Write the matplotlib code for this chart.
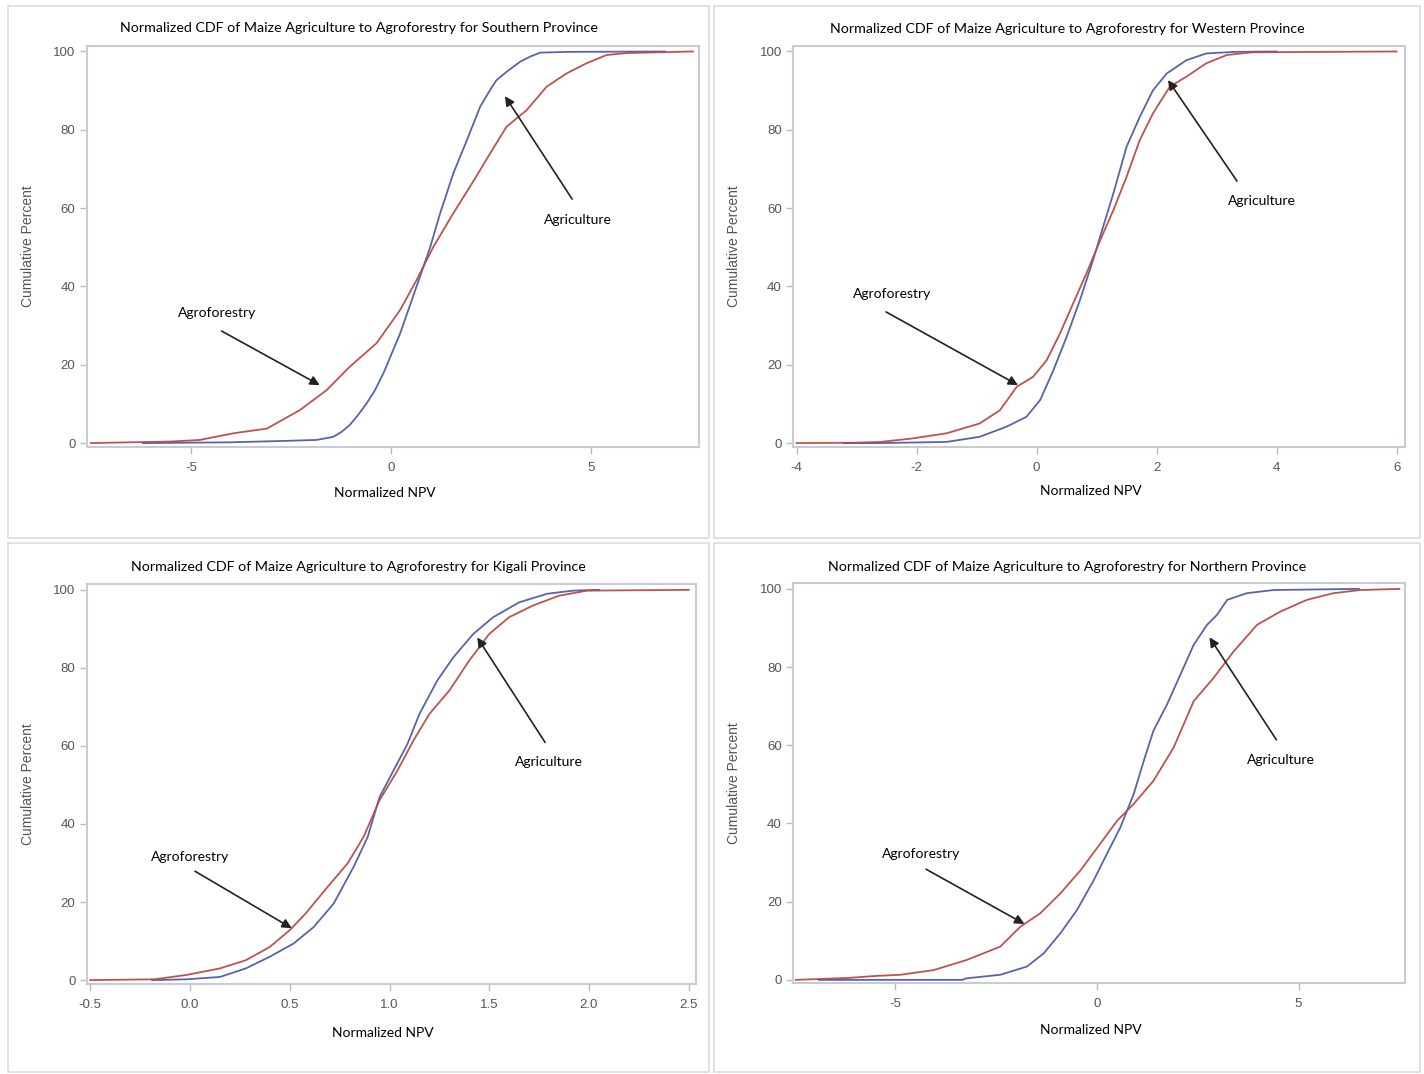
import matplotlib
matplotlib.use('Agg')
import matplotlib.pyplot as plt
from matplotlib.patches import Rectangle
from matplotlib import font_manager

W, H = 1424, 1074

# ---- data (Normalized NPV, cumulative percent) ----
south_agri_x = [-6.2, -4.0, -2.5, -1.86, -1.44, -1.23, -1.03, -0.82, -0.61, -0.4, -0.19, 0.23, 0.64,
                0.98, 1.23, 1.56, 1.9, 2.23, 2.48, 2.64, 2.89, 3.06, 3.23, 3.48, 3.73, 4.4, 6.85]
south_agri_y = [0, 0.2, 0.6, 0.8, 1.6, 2.9, 4.6, 7.2, 10.1, 13.5, 17.8, 28, 40,
                50, 58.7, 68.9, 77.4, 85.9, 90.2, 92.7, 94.8, 96.1, 97.4, 98.7, 99.7, 99.9, 100]
south_agro_x = [-7.5, -5.5, -4.78, -3.94, -3.1, -2.28, -1.61, -1.03, -0.36, 0.23, 0.64, 1.06,
                1.56, 2.08, 2.48, 2.89, 3.39, 3.89, 4.39, 4.89, 5.39, 5.9, 7.55]
south_agro_y = [0, 0.4, 0.8, 2.5, 3.7, 8.4, 13.5, 19.5, 25.5, 34, 41.6, 50.1,
                58.7, 67.2, 74, 80.8, 85, 91, 94.4, 97, 99.1, 99.6, 100]

west_agri_x = [-3.22, -2.6, -1.5, -0.95, -0.5, -0.17, 0.06, 0.28, 0.5, 0.72, 0.94, 1.11,
               1.28, 1.5, 1.72, 1.94, 2.17, 2.5, 2.83, 3.3, 4.0]
west_agri_y = [0, 0, 0.3, 1.6, 4.2, 6.7, 11, 18.6, 27.1, 36.4, 46.7, 55.3,
               63.8, 75.7, 83.3, 90.1, 94.4, 97.8, 99.5, 99.9, 100]
west_agro_x = [-4.0, -3.0, -2.6, -2.06, -1.5, -0.95, -0.61, -0.33, -0.06, 0.17, 0.39, 0.61,
               0.83, 1.06, 1.28, 1.5, 1.72, 1.94, 2.22, 2.5, 2.83, 3.17, 3.6, 6.0]
west_agro_y = [0, 0.1, 0.3, 1.2, 2.5, 5, 8.4, 14.4, 16.9, 21.2, 28, 35.7,
               43.3, 51.8, 59.5, 68, 77.4, 84.2, 91, 93.6, 97, 99.1, 99.8, 100]

kigali_agri_x = [-0.19, -0.02, 0.15, 0.28, 0.40, 0.52, 0.62, 0.72, 0.82, 0.89, 0.95, 1.02,
                 1.09, 1.15, 1.24, 1.32, 1.42, 1.52, 1.65, 1.79, 1.92, 2.05]
kigali_agri_y = [0, 0.2, 0.8, 3, 6, 9.4, 13.6, 19.6, 29, 36.6, 46.9, 53.7,
                 60.5, 68.2, 76.8, 82.7, 88.7, 93, 96.8, 99, 99.8, 100]
kigali_agro_x = [-0.5, -0.18, -0.02, 0.15, 0.28, 0.40, 0.50, 0.58, 0.69, 0.79, 0.87, 0.95,
                 1.04, 1.12, 1.2, 1.30, 1.40, 1.50, 1.6, 1.72, 1.85, 1.99, 2.5]
kigali_agro_y = [0, 0.2, 1.3, 3, 5.1, 8.5, 12.8, 17.1, 23.9, 29.9, 36.7, 46.1,
                 53.7, 61.4, 68.2, 74.2, 81.9, 88.7, 93, 96, 98.5, 99.8, 100]

north_agri_x = [-6.9, -3.35, -3.23, -2.4, -1.74, -1.32, -0.91, -0.5, -0.08, 0.25, 0.58, 0.91,
                1.16, 1.40, 1.74, 2.07, 2.40, 2.73, 2.98, 3.23, 3.72, 4.38, 6.5]
north_agri_y = [0, 0, 0.4, 1.3, 3.4, 6.8, 11.9, 17.8, 25.5, 32.3, 39, 47.5,
                56, 63.7, 70.5, 78.1, 85.7, 90.8, 93.4, 97.2, 98.9, 99.7, 100]
north_agro_x = [-7.47, -6.16, -5.5, -4.88, -4.05, -3.23, -2.4, -1.9, -1.41, -0.91, -0.41, 0.08,
                0.5, 0.91, 1.40, 1.90, 2.40, 2.89, 3.39, 3.97, 4.55, 5.21, 5.87, 6.53, 7.5]
north_agro_y = [0, 0.5, 1, 1.3, 2.5, 5.1, 8.5, 13.6, 17, 22.1, 28, 34.8,
                40.7, 45, 50.9, 59.4, 71.3, 77.2, 84, 90.8, 94.2, 97.2, 98.9, 99.7, 100]

provinces = ['Southern', 'Western', 'Kigali', 'Northern']
x_ticks = [[-5, 0, 5], [-4, -2, 0, 2, 4, 6],
           [-0.5, 0.0, 0.5, 1.0, 1.5, 2.0, 2.5], [-5, 0, 5]]
x_ticklabels = [['-5', '0', '5'], ['-4', '-2', '0', '2', '4', '6'],
                ['-0.5', '0.0', '0.5', '1.0', '1.5', '2.0', '2.5'], ['-5', '0', '5']]
y_ticks = [0, 20, 40, 60, 80, 100]

# ---- layout (pixels) ----
panels = [(8, 6, 709, 538), (714, 6, 1420, 538), (8, 543, 709, 1072), (714, 543, 1420, 1072)]
axes_px = [(86.5, 46, 699, 447), (793, 46, 1405, 447), (86.5, 584, 695.5, 984), (793, 583, 1405, 983)]
xlims = [(-7.61, 7.7), (-4.06, 6.14), (-0.519, 2.534), (-7.54, 7.64)]
ylims = [(-1.0, 101.4), (-1.0, 101.4), (-1.0, 101.5), (-0.8, 101.5)]
title_y = [28, 29, 567, 567]
xlabel_y = [493, 491, 1033, 1030]
ylabel_x = [28, 734, 28, 734]
# annotation text, arrow tail, arrow head (data coords)
agro_ann = [((-4.35, 33.2), (-4.23, 28.6), (-1.78, 14.8)),
            ((-2.41, 38.0), (-2.51, 33.5), (-0.31, 14.8)),
            ((0.0, 31.5), (0.025, 27.9), (0.51, 13.3)),
            ((-4.36, 32.1), (-4.24, 28.3), (-1.8, 14.3))]
agri_ann = [((4.68, 57.0), (4.53, 62.3), (2.85, 88.6)),
            ((3.75, 61.8), (3.34, 66.9), (2.19, 92.7)),
            ((1.80, 55.8), (1.78, 60.9), (1.44, 87.8)),
            ((4.57, 56.3), (4.45, 61.4), (2.79, 87.6))]

curves = [(south_agri_x, south_agri_y, south_agro_x, south_agro_y),
          (west_agri_x, west_agri_y, west_agro_x, west_agro_y),
          (kigali_agri_x, kigali_agri_y, kigali_agro_x, kigali_agro_y),
          (north_agri_x, north_agri_y, north_agro_x, north_agro_y)]

names = {f.name for f in font_manager.fontManager.ttflist}
txt_font = 'Lato' if 'Lato' in names else 'DejaVu Sans'
num_font = 'Liberation Sans Narrow' if 'Liberation Sans Narrow' in names else 'Liberation Sans'

blue = '#4d5ca6'
red = '#b94a45'
grey = '#555555'

fig = plt.figure(figsize=(W / 100, H / 100), dpi=100)


def fx(x):
    return x / W


def fy(y):
    return 1 - y / H


for i in range(4):
    l, t, r, b = panels[i]
    fig.patches.append(Rectangle((fx(l), fy(b)), fx(r - l), (b - t) / H,
                                 transform=fig.transFigure, fill=False,
                                 edgecolor='#dcdcdc', lw=1.2))
    al, at, ar, ab = axes_px[i]
    ax = fig.add_axes([fx(al), fy(ab), fx(ar - al), (ab - at) / H])
    ax.set_facecolor('white')

    ag_x, ag_y, af_x, af_y = curves[i]
    ax.plot(ag_x, ag_y, color=blue, lw=1.3, alpha=0.95)
    ax.plot(af_x, af_y, color=red, lw=1.3, alpha=0.95)

    ax.set_xlim(*xlims[i])
    ax.set_ylim(*ylims[i])
    ax.set_xticks(x_ticks[i])
    ax.set_xticklabels(x_ticklabels[i], fontfamily=num_font, fontsize=9.5, color=grey)
    ax.set_yticks(y_ticks)
    ax.set_yticklabels([str(v) for v in y_ticks], fontfamily=num_font, fontsize=9.5, color=grey)
    ax.tick_params(axis='both', direction='out', length=5, width=1, color='#b8bcc2')
    ax.tick_params(axis='x', pad=6)
    ax.tick_params(axis='y', pad=3)
    for s in ax.spines.values():
        s.set_color('#c8ccd2')
        s.set_linewidth(1.5)

    (tx, tp, hd) = agro_ann[i]
    ax.text(tx[0], tx[1], 'Agroforestry', ha='center', va='center',
            fontfamily=txt_font, fontsize=10, color='black')
    ax.annotate('', xy=hd, xytext=tp,
                arrowprops=dict(arrowstyle='-|>', color='#222222', lw=1.2,
                                mutation_scale=14, shrinkA=0, shrinkB=0))
    (tx, tp, hd) = agri_ann[i]
    ax.text(tx[0], tx[1], 'Agriculture', ha='center', va='center',
            fontfamily=txt_font, fontsize=10, color='black')
    ax.annotate('', xy=hd, xytext=tp,
                arrowprops=dict(arrowstyle='-|>', color='#222222', lw=1.2,
                                mutation_scale=14, shrinkA=0, shrinkB=0))

    cx = (l + r) / 2
    fig.text(fx(cx), fy(title_y[i]),
             'Normalized CDF of Maize Agriculture to Agroforestry for %s Province' % provinces[i],
             ha='center', va='center', fontfamily=txt_font, fontsize=10.3, color='black')
    fig.text(fx((al + ar) / 2 - 8), fy(xlabel_y[i]), 'Normalized NPV', ha='center', va='center',
             fontfamily=txt_font, fontsize=10, color='black')
    fig.text(fx(ylabel_x[i]), fy((at + ab) / 2), 'Cumulative Percent', ha='center', va='center',
             rotation=90, fontfamily='Liberation Sans', fontsize=10, color=grey)

fig.savefig('out.png', dpi=100, facecolor='white')
